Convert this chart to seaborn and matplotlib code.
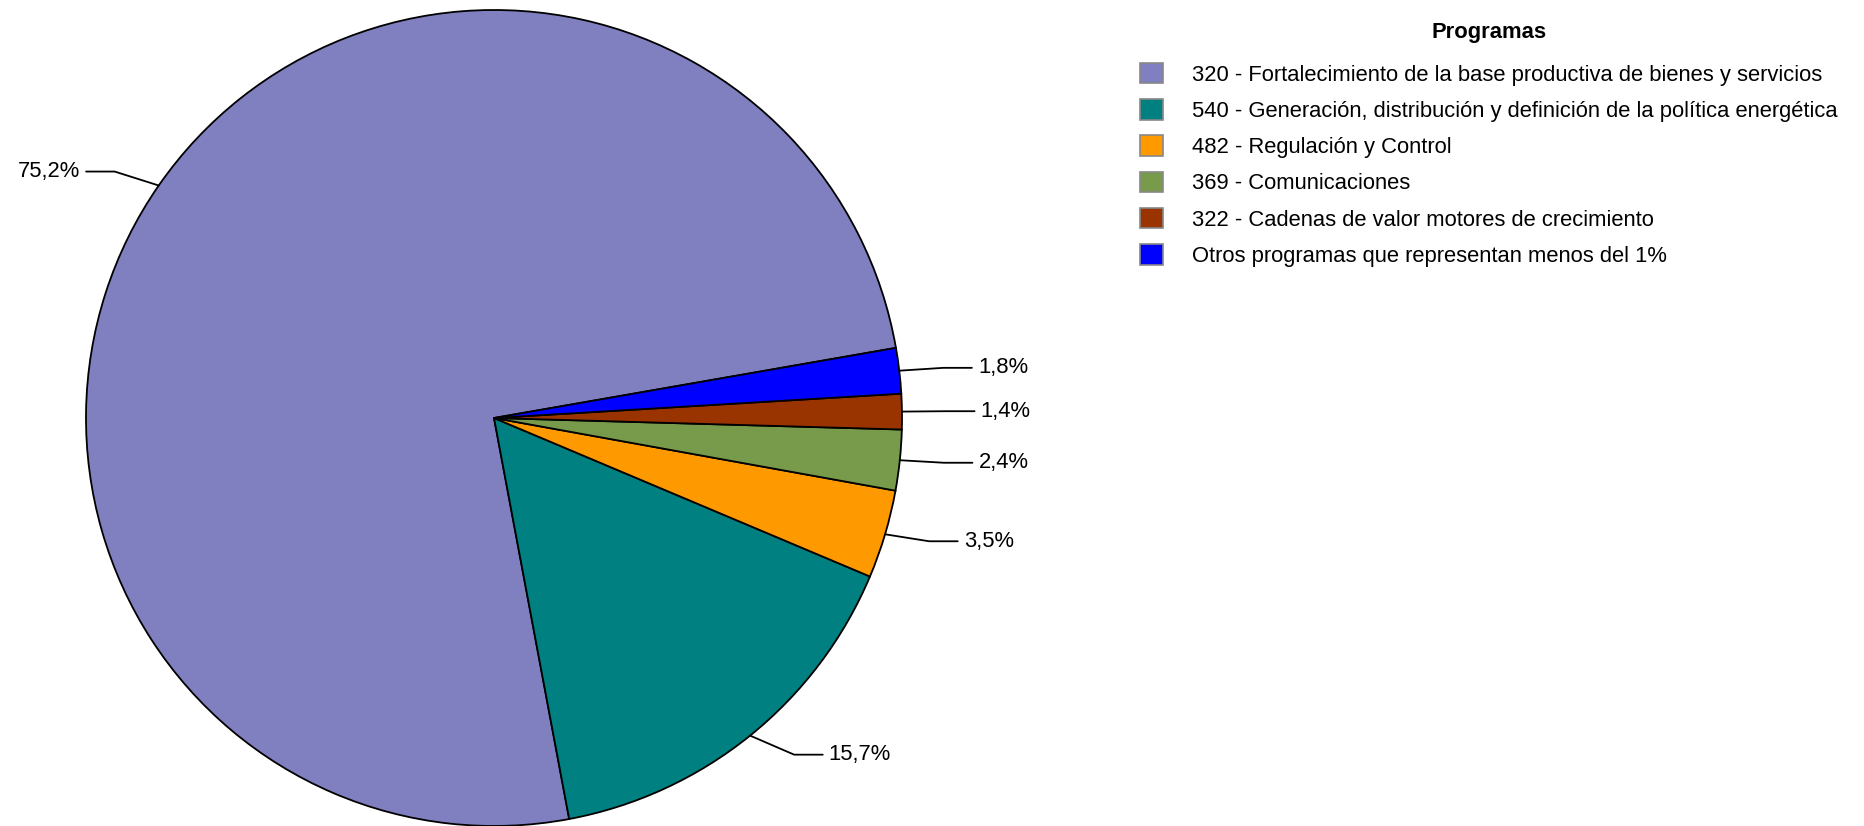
import numpy as np
import matplotlib
matplotlib.use("Agg")
import matplotlib.pyplot as plt
import seaborn as sns

# datos del grafico
programas = [
    "320 - Fortalecimiento de la base productiva de bienes y servicios",
    "540 - Generación, distribución y definición de la política energética",
    "482 - Regulación y Control",
    "369 - Comunicaciones",
    "322 - Cadenas de valor motores de crecimiento",
    "Otros programas que representan menos del 1%",
]
porcentajes = [75.2, 15.7, 3.5, 2.4, 1.4, 1.8]
etiquetas = ["75,2%", "15,7%", "3,5%", "2,4%", "1,4%", "1,8%"]
colores = ["#8080C0", "#008080", "#FF9900", "#779A4B", "#993300", "#0000FF"]

sns.set_theme(style="white")
plt.rcParams["font.family"] = ["Liberation Sans", "DejaVu Sans"]
plt.rcParams["text.color"] = "black"

fs = 15.8

fig = plt.figure(figsize=(18.65, 8.26), dpi=100)
ax = fig.add_axes([86 / 1865, 0, 816 / 1865, 816 / 826])

wedges, _ = ax.pie(porcentajes, colors=colores, startangle=9.9, counterclock=True,
                   wedgeprops=dict(edgecolor="black", linewidth=1.3))
ax.set_xlim(-1, 1)
ax.set_ylim(-1, 1)

# etiquetas con lineas guia
for w, lab in zip(wedges, etiquetas):
    ang = np.deg2rad((w.theta1 + w.theta2) / 2)
    c, s = np.cos(ang), np.sin(ang)
    lado = 1 if c >= 0 else -1
    x1, y1 = c + lado * 0.108, s * 1.06
    x2 = x1 + lado * 0.07
    ax.plot([c, x1, x2], [s, y1, y1], color="black", lw=1.3, clip_on=False)
    ax.text(x2 + lado * 0.015, y1, lab, ha="left" if lado > 0 else "right",
            va="center", fontsize=fs, color="black", clip_on=False)

leg = fig.legend(wedges, programas, loc="upper left", bbox_to_anchor=(1120 / 1865, 1 - 2 / 826),
                 frameon=False, fontsize=fs, title="Programas",
                 title_fontproperties=dict(weight="bold", size=fs),
                 handlelength=1.05, handleheight=1.05, handletextpad=1.32, labelspacing=0.62)
leg._legend_box.sep = 14.5
for h in leg.legend_handles:
    h.set_edgecolor("#888888")
    h.set_linewidth(1.2)

fig.savefig("out.png", dpi=100)
